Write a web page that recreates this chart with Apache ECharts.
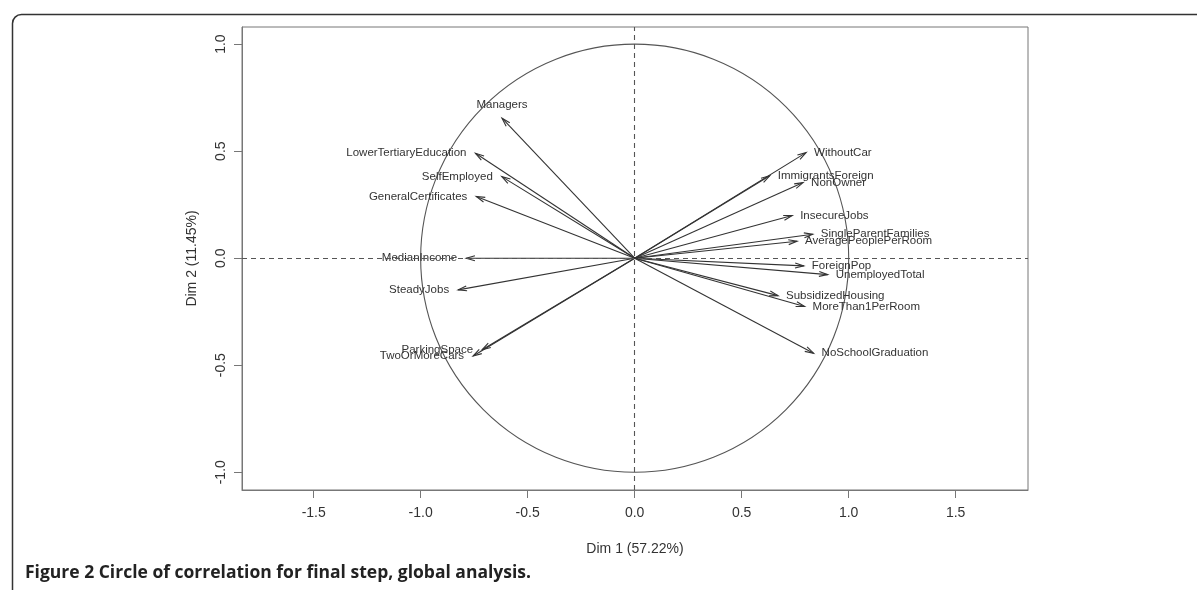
<!DOCTYPE html>
<html><head><meta charset="utf-8">
<script src="https://cdn.jsdelivr.net/npm/echarts@6/dist/echarts.min.js"></script>
<style>html,body{margin:0;padding:0;background:#fff}#c{width:1197px;height:590px}</style>
</head><body><div id="c"></div>
<script>
const variables = ['Managers','LowerTertiaryEducation','SelfEmployed','GeneralCertificates','MedianIncome','SteadyJobs','ParkingSpace','TwoOrMoreCars','WithoutCar','ImmigrantsForeign','NonOwner','InsecureJobs','SingleParentFamilies','AveragePeoplePerRoom','ForeignPop','UnemployedTotal','SubsidizedHousing','MoreThan1PerRoom','NoSchoolGraduation'];
const dim1 = [-0.620,-0.744,-0.621,-0.740,-0.787,-0.825,-0.713,-0.755,0.801,0.631,0.787,0.736,0.832,0.759,0.790,0.902,0.670,0.794,0.836];
const dim2 = [0.654,0.490,0.381,0.288,0.000,-0.148,-0.428,-0.457,0.493,0.385,0.353,0.199,0.112,0.079,-0.036,-0.077,-0.175,-0.226,-0.444];
const xTicks = [-1.5,-1.0,-0.5,0.0,0.5,1.0,1.5];
const yTicks = [-1.0,-0.5,0.0,0.5,1.0];
const xName = 'Dim 1 (57.22%)';
const yName = 'Dim 2 (11.45%)';
const caption = 'Figure 2 Circle of correlation for final step, global analysis.';

const FONT = '"Liberation Sans", Arial, sans-serif';
const chart = echarts.init(document.getElementById('c'), null, {renderer:'canvas'});
const arrowData = variables.map((n,i)=>[dim1[i], dim2[i], n]);

chart.setOption({
  animation:false,
  backgroundColor:'#fff',
  grid:{left:242,right:169,top:27,bottom:100,show:true,borderColor:'#777',borderWidth:1},
  xAxis:{type:'value',min:-1.835,max:1.838,
    name:xName,nameLocation:'middle',nameGap:52,
    nameTextStyle:{fontFamily:FONT,fontSize:14,color:'#333'},
    axisLine:{show:true,onZero:false,lineStyle:{color:'#777'}},
    axisTick:{show:true,length:8,lineStyle:{color:'#777'},customValues:xTicks},
    axisLabel:{fontFamily:FONT,fontSize:14,color:'#333',margin:16,customValues:xTicks,formatter:v=>v.toFixed(1)},
    splitLine:{show:false}},
  yAxis:{type:'value',min:-1.083,max:1.08,
    name:yName,nameLocation:'middle',nameGap:43,
    nameTextStyle:{fontFamily:FONT,fontSize:14,color:'#333'},
    axisLine:{show:true,onZero:false,lineStyle:{color:'#777'}},
    axisTick:{show:true,length:8,lineStyle:{color:'#777'},customValues:yTicks},
    axisLabel:{fontFamily:FONT,fontSize:14,color:'#333',margin:14,rotate:90,customValues:yTicks,formatter:v=>v.toFixed(1)},
    splitLine:{show:false}},
  graphic:[
    {type:'rect',left:10,top:12,shape:{width:1400,height:800,r:9},style:{fill:'none',stroke:'#333',lineWidth:1.5},silent:true},
    {type:'text',left:25,top:564,style:{text:caption,font:'bold 17.5px "Open Sans", sans-serif',fill:'#222'}}
  ],
  series:[
    {type:'custom',data:[[0,0]],silent:true,z:1,
      renderItem:(params,api)=>{
        const c=api.coord([api.value(0),api.value(1)]);
        const s=api.size([1,1]);
        return {type:'circle',shape:{cx:c[0],cy:c[1],r:(s[0]+s[1])/2},style:{fill:'none',stroke:'#555',lineWidth:1.1}};
      },
      markLine:{silent:true,symbol:'none',label:{show:false},
        lineStyle:{type:[5,4],color:'#555',width:1.1},
        data:[{xAxis:0},{yAxis:0}]}
    },
    {type:'custom',data:arrowData,silent:true,z:3,
      renderItem:(params,api)=>{
        const x=api.value(0), y=api.value(1);
        const name=arrowData[params.dataIndex][2];
        const p0=api.coord([0,0]);
        const p1=api.coord([x,y]);
        const ang=Math.atan2(p1[1]-p0[1],p1[0]-p0[0]);
        const L=9, A=Math.PI/180*16;
        const h1=[p1[0]-L*Math.cos(ang-A),p1[1]-L*Math.sin(ang-A)];
        const h2=[p1[0]-L*Math.cos(ang+A),p1[1]-L*Math.sin(ang+A)];
        let tx,ty,align,va;
        if(Math.abs(x)>=Math.abs(y)){
          ty=p1[1]; va='middle';
          if(x>0){tx=p1[0]+8;align='left';}else{tx=p1[0]-9;align='right';}
        }else{
          tx=p1[0]; align='center';
          if(y>0){ty=p1[1]-13;va='middle';}else{ty=p1[1]+13;va='middle';}
        }
        const st={stroke:'#333',lineWidth:1.1,fill:'none'};
        return {type:'group',children:[
          {type:'line',shape:{x1:p0[0],y1:p0[1],x2:p1[0],y2:p1[1]},style:st},
          {type:'polyline',shape:{points:[h1,p1,h2]},style:st},
          {type:'text',x:tx,y:ty,style:{text:name,fill:'#333',font:'11.5px '+FONT,align:align,verticalAlign:va}}
        ]};
      }
    }
  ]
});
</script></body></html>
